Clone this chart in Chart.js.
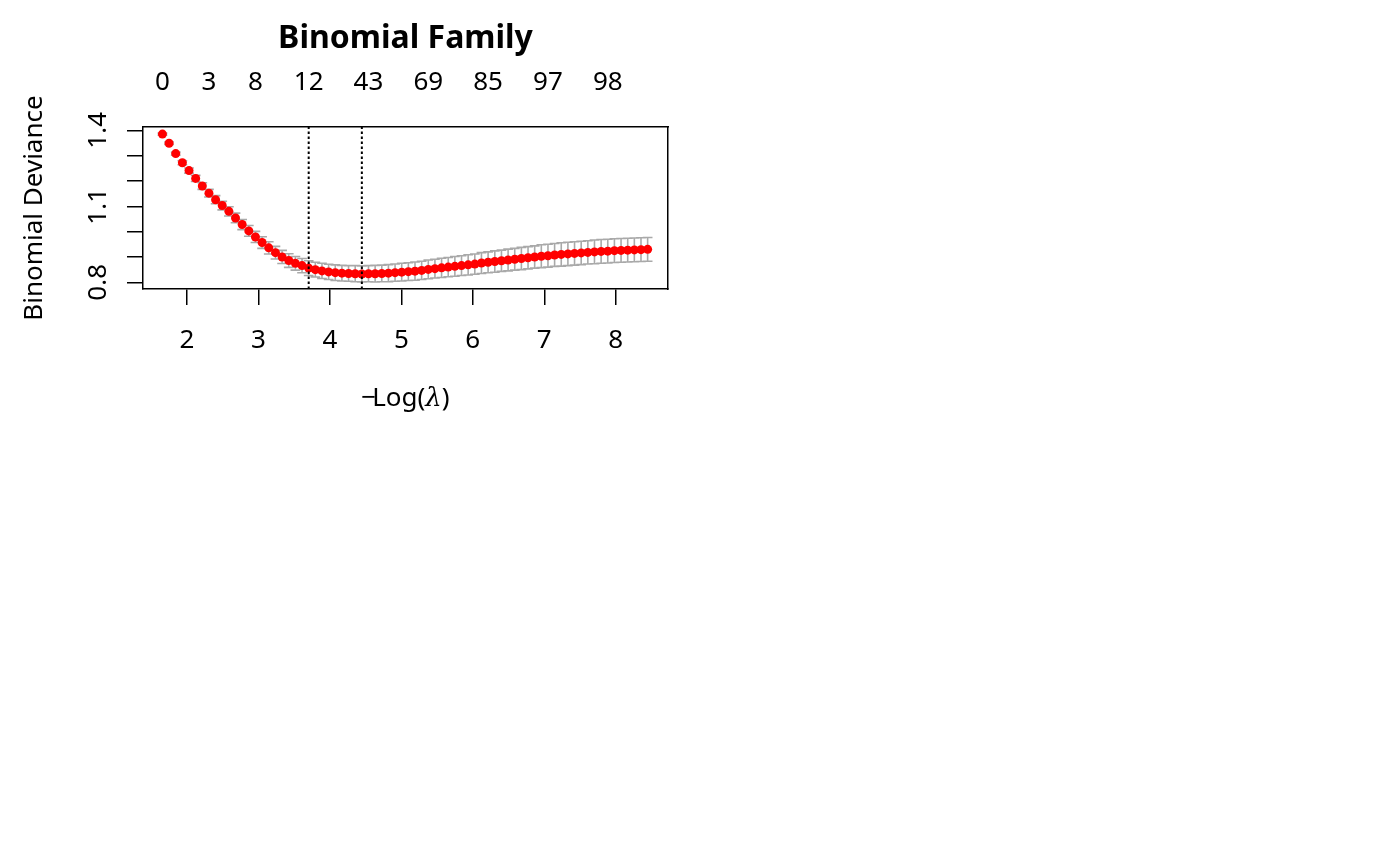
<!DOCTYPE html>
<html>
<head>
<meta charset="utf-8">
<title>Binomial Family</title>
<script src="https://cdn.jsdelivr.net/npm/chart.js@4.4.1/dist/chart.umd.min.js"></script>
<style>
    html, body { margin: 0; padding: 0; background: #ffffff; }
    #wrap { width: 1400px; height: 866px; }
</style>
</head>
<body>
<div id="wrap"><canvas id="cvPlot" width="1400" height="866"></canvas></div>
<script>
// ===================================
// CV.GLMNET - BINOMIAL DEVIANCE
// ===================================

// -log(lambda) along the path (74 lambdas)
const logLambda = [
    1.656, 1.749, 1.842, 1.935, 2.028, 2.121, 2.214, 2.307, 2.400, 2.493,
    2.586, 2.679, 2.772, 2.865, 2.958, 3.051, 3.144, 3.238, 3.331, 3.424,
    3.517, 3.610, 3.703, 3.796, 3.889, 3.982, 4.075, 4.168, 4.261, 4.354,
    4.447, 4.540, 4.633, 4.726, 4.819, 4.912, 5.005, 5.098, 5.191, 5.284,
    5.377, 5.470, 5.563, 5.656, 5.749, 5.842, 5.935, 6.028, 6.121, 6.214,
    6.308, 6.401, 6.494, 6.587, 6.680, 6.773, 6.866, 6.959, 7.052, 7.145,
    7.238, 7.331, 7.424, 7.517, 7.610, 7.703, 7.796, 7.889, 7.982, 8.075,
    8.168, 8.261, 8.354, 8.447
];

// mean cross-validated deviance
const cvm = [
    1.385, 1.349, 1.308, 1.272, 1.241, 1.210, 1.180, 1.152, 1.126, 1.103,
    1.080, 1.054, 1.028, 1.003, 0.979, 0.957, 0.936, 0.917, 0.900, 0.886,
    0.875, 0.866, 0.856, 0.850, 0.845, 0.841, 0.838, 0.836, 0.835, 0.834,
    0.833, 0.834, 0.834, 0.835, 0.836, 0.838, 0.840, 0.842, 0.844, 0.847,
    0.851, 0.854, 0.857, 0.860, 0.863, 0.866, 0.869, 0.872, 0.876, 0.879,
    0.882, 0.885, 0.888, 0.891, 0.894, 0.897, 0.900, 0.903, 0.905, 0.908,
    0.910, 0.912, 0.914, 0.916, 0.918, 0.920, 0.922, 0.923, 0.925, 0.926,
    0.927, 0.928, 0.929, 0.930
];

// standard error of cvm
const cvsd = [
    0.004, 0.005, 0.006, 0.008, 0.010, 0.012, 0.013, 0.015, 0.016, 0.017,
    0.018, 0.019, 0.020, 0.021, 0.022, 0.023, 0.024, 0.025, 0.026, 0.027,
    0.027, 0.028, 0.029, 0.029, 0.030, 0.030, 0.031, 0.031, 0.031, 0.032,
    0.032, 0.032, 0.033, 0.033, 0.034, 0.034, 0.035, 0.035, 0.036, 0.036,
    0.037, 0.037, 0.038, 0.038, 0.039, 0.039, 0.040, 0.040, 0.041, 0.041,
    0.042, 0.042, 0.043, 0.043, 0.044, 0.044, 0.044, 0.045, 0.045, 0.045,
    0.046, 0.046, 0.046, 0.046, 0.046, 0.047, 0.047, 0.047, 0.047, 0.047,
    0.047, 0.047, 0.047, 0.047
];

// number of non-zero coefficients shown on the top axis
const nzIndex = [0, 7, 14, 22, 31, 40, 49, 58, 67];
const nzLabels = ['0', '3', '8', '12', '43', '69', '85', '97', '98'];

// lambda.min and lambda.1se
const iMin = 30;
const i1se = 22;

const xTicks = [2, 3, 4, 5, 6, 7, 8];
const yTicks = [0.8, 0.9, 1.0, 1.1, 1.2, 1.3, 1.4];
const yLabelled = [0.8, 1.1, 1.4];
const xRange = [1.384, 8.732];
const yRange = [0.7736, 1.413];

const FONT = 'Noto Sans';
const CAP_W = 0.068;   // half width of error bar caps, in x units

/**
 * Monta os segmentos das barras de erro (linha vertical + duas tampas)
 */
function buildErrorBars() {
    const pts = [];
    logLambda.forEach((x, i) => {
        const up = cvm[i] + cvsd[i];
        const lo = cvm[i] - cvsd[i];
        pts.push({ x: x, y: lo }, { x: x, y: up }, { x: x, y: null });
        pts.push({ x: x - CAP_W, y: up }, { x: x + CAP_W, y: up }, { x: x, y: null });
        pts.push({ x: x - CAP_W, y: lo }, { x: x + CAP_W, y: lo }, { x: x, y: null });
    });
    return pts;
}

function vline(idx) {
    return [{ x: logLambda[idx], y: yRange[0] }, { x: logLambda[idx], y: yRange[1] }];
}

// x axis title with an italic lambda
const xTitlePlugin = {
    id: 'xTitle',
    afterDraw(chart) {
        const { ctx, chartArea } = chart;
        const parts = [
            ['\u2212', '26px "' + FONT + '"', -4],
            ['Log(', '26px "' + FONT + '"', 0],
            ['\u03bb', 'italic 26px "DejaVu Serif"', 0],
            [')', '26px "' + FONT + '"', 0]
        ];
        ctx.save();
        let total = 0;
        parts.forEach(p => { ctx.font = p[1]; total += ctx.measureText(p[0]).width + p[2]; });
        let x = (chartArea.left + chartArea.right) / 2 - total / 2;
        const y = chart.scales.x.top + 117;
        ctx.fillStyle = '#000';
        ctx.textBaseline = 'alphabetic';
        ctx.textAlign = 'left';
        parts.forEach(p => {
            ctx.font = p[1];
            ctx.fillText(p[0], x, y);
            x += ctx.measureText(p[0]).width + p[2];
        });
        ctx.restore();
    }
};

const tickFont = { family: FONT, size: 26 };

new Chart(document.getElementById('cvPlot'), {
    type: 'scatter',
    data: {
        datasets: [
            {
                label: 'lambda.min',
                data: vline(iMin),
                showLine: true,
                borderColor: '#000000',
                borderWidth: 2,
                borderDash: [2.5, 2.5],
                pointRadius: 0
            },
            {
                label: 'lambda.1se',
                data: vline(i1se),
                showLine: true,
                borderColor: '#000000',
                borderWidth: 2,
                borderDash: [2.5, 2.5],
                pointRadius: 0
            },
            {
                label: 'cvm',
                data: logLambda.map((x, i) => ({ x: x, y: cvm[i] })),
                showLine: false,
                pointRadius: 4.5,
                pointBackgroundColor: '#ff0000',
                pointBorderWidth: 0
            },
            {
                label: 'cv error bars',
                data: buildErrorBars(),
                showLine: true,
                spanGaps: false,
                borderColor: '#a9a9a9',
                borderWidth: 1.6,
                pointRadius: 0
            }
        ]
    },
    options: {
        responsive: false,
        animation: false,
        devicePixelRatio: 1,
        layout: { padding: { left: 0, right: 732, top: 0, bottom: 447 } },
        plugins: {
            legend: { display: false },
            tooltip: { enabled: false },
            title: {
                display: true,
                text: 'Binomial Family',
                fullSize: false,
                color: '#000000',
                font: { family: FONT, size: 32, weight: 'bold' },
                padding: { top: 20, bottom: 0 }
            }
        },
        scales: {
            x: {
                type: 'linear',
                position: 'bottom',
                min: xRange[0],
                max: xRange[1],
                afterBuildTicks: s => { s.ticks = xTicks.map(v => ({ value: v })); },
                afterFit: s => { s.height = 130; },
                grid: { drawOnChartArea: false, drawTicks: true, tickLength: 16, color: '#000000', lineWidth: 1.5 },
                border: { display: true, color: '#000000', width: 1.5 },
                ticks: {
                    autoSkip: false, maxRotation: 0, color: '#000000', font: tickFont, padding: 20,
                    callback: v => String(v)
                }
            },
            x2: {
                type: 'linear',
                position: 'top',
                min: xRange[0],
                max: xRange[1],
                afterBuildTicks: s => { s.ticks = nzIndex.map(i => ({ value: logLambda[i] })); },
                afterFit: s => { s.height = 68.6; },
                grid: { display: false, drawTicks: false },
                border: { display: true, color: '#000000', width: 1.5 },
                ticks: {
                    autoSkip: false, maxRotation: 0, color: '#000000', font: tickFont, padding: 29,
                    callback: (v, i) => nzLabels[i]
                }
            },
            y: {
                type: 'linear',
                position: 'left',
                min: yRange[0],
                max: yRange[1],
                afterBuildTicks: s => { s.ticks = yTicks.map(v => ({ value: v })); },
                afterFit: s => { s.width = 143; },
                grid: { drawOnChartArea: false, drawTicks: true, tickLength: 16, color: '#000000', lineWidth: 1.5 },
                border: { display: true, color: '#000000', width: 1.5 },
                ticks: {
                    autoSkip: false, minRotation: 90, maxRotation: 90, crossAlign: 'center',
                    color: '#000000', font: tickFont, padding: 10,
                    callback: v => yLabelled.includes(v) ? v.toFixed(1) : ''
                },
                title: {
                    display: true,
                    text: 'Binomial Deviance',
                    color: '#000000',
                    font: tickFont,
                    padding: { top: 19, bottom: 0 }
                }
            },
            y2: {
                type: 'linear',
                position: 'right',
                min: yRange[0],
                max: yRange[1],
                afterFit: s => { s.width = 0; },
                grid: { display: false, drawTicks: false },
                ticks: { display: false },
                border: { display: true, color: '#000000', width: 1.5 }
            }
        }
    },
    plugins: [xTitlePlugin]
});
</script>
</body>
</html>
